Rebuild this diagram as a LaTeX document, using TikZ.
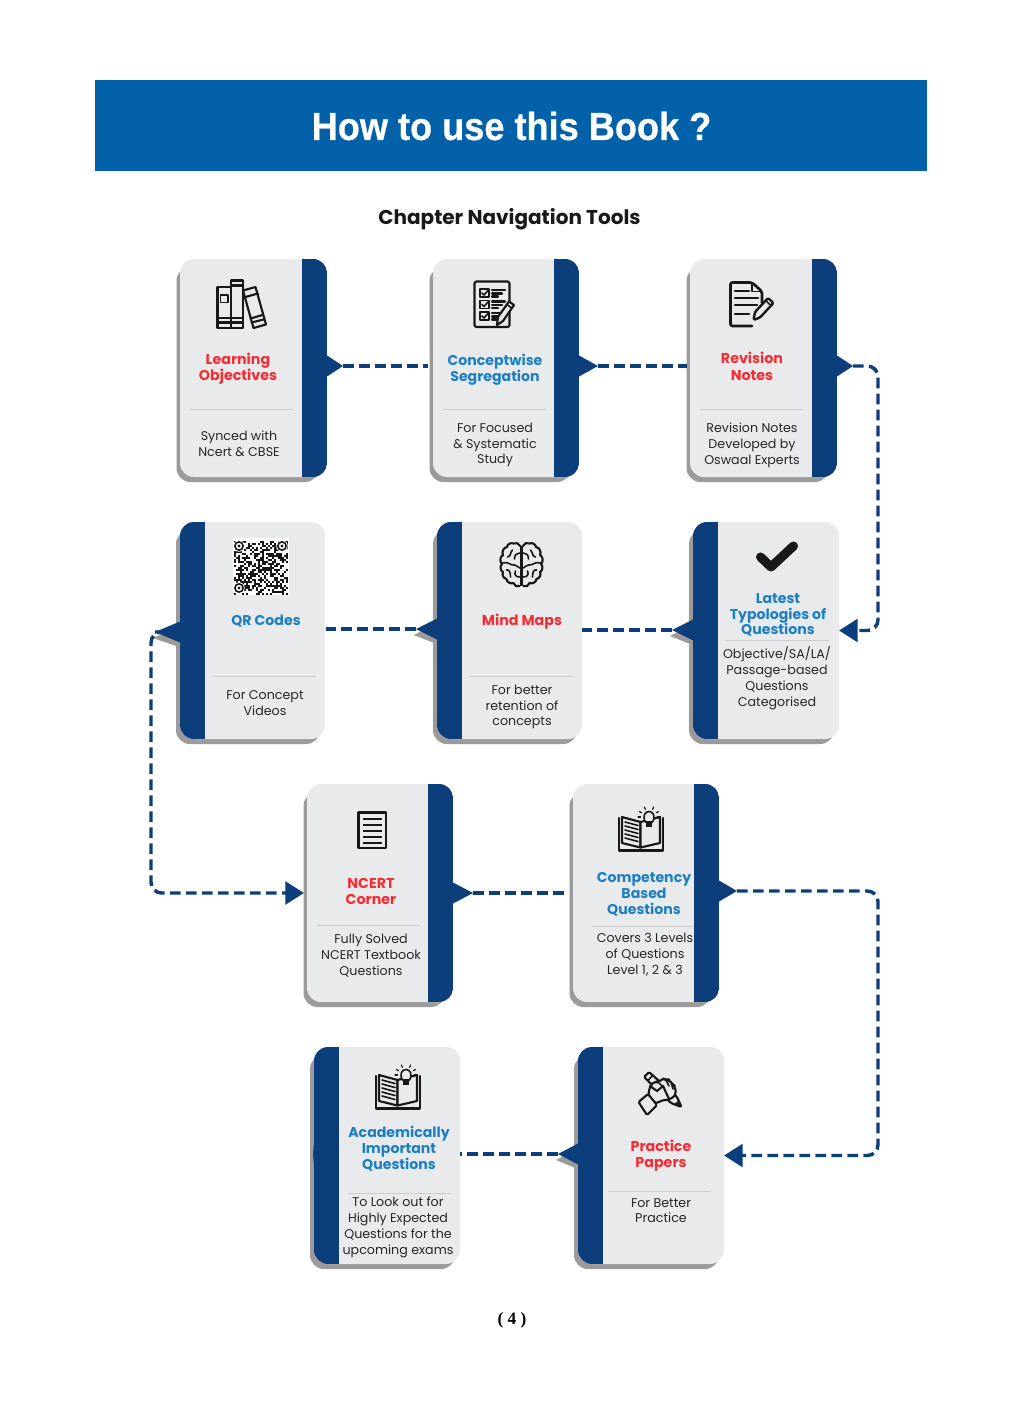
\documentclass[tikz,border=0pt]{standalone}
\usepackage{fontspec}
\setmainfont{Poppins}
\newfontfamily\titlefont[FakeStretch=0.925,BoldFeatures={FakeBold=0.6}]{Liberation Sans}
\newfontfamily\pagefont{Liberation Serif}
\usetikzlibrary{arrows.meta,calc}
\definecolor{navy}{HTML}{0B3E7A}
\definecolor{headbar}{HTML}{0261A9}
\definecolor{cardfill}{HTML}{E9EAEC}
\definecolor{shadowc}{HTML}{9C9A9B}
\definecolor{hblue}{HTML}{1B7FC4}
\definecolor{hred}{HTML}{F52C33}
\definecolor{inkc}{HTML}{1A1718}
\tikzset{
  cardbox/.style={fill=cardfill,rounded corners=10.5pt,inner sep=0pt,outer sep=0pt},
  ttlred/.style={font=\fontsize{10.7}{12.2}\selectfont\bfseries,text=hred,align=center,inner sep=0pt,yshift=-1.1pt},
  ttlblue/.style={font=\fontsize{10.6}{11.9}\selectfont\bfseries,text=hblue,align=center,inner sep=0pt,yshift=-1.1pt},
  bodytxt/.style={font=\fontsize{9.5}{11.9}\selectfont,text=black!85,align=center,inner sep=0pt,yshift=-0.8pt},
  divider/.style={draw=black!20,line width=0.6pt},
  conn/.style={draw=navy,line width=2.6pt,dash pattern=on 8pt off 4pt,rounded corners=8pt},
  connarrow/.style={conn,-{Triangle[length=14pt,width=17pt]}},
  icon/.style={draw=inkc,line width=1.6pt,line cap=round,line join=round},
  iconthin/.style={draw=inkc,line width=1.2pt,line cap=round,line join=round},
}
% id, x0, x1, y0, y1, tipx, tipy
\newcommand{\cardright}[7]{
  \fill[shadowc,rounded corners=10.5pt] ({#2-3.5},{#4+8}) rectangle ({#3-8},{#5+5});
  \node[cardbox,minimum width={(#3-#2)*0.75pt},minimum height={(#5-#4)*0.75pt}] (#1) at ({(#2+#3)/2},{(#4+#5)/2}) {};
  \begin{scope}
    \clip[rounded corners=10.5pt] (#2,#4) rectangle (#3,#5);
    \fill[navy] ({#3-25},#4) rectangle (#3,#5);
  \end{scope}
  \fill[navy] (#3,{#7-10.5}) -- (#6,#7) -- (#3,{#7+10.5}) -- ({#3-2},{#7+10.5}) -- ({#3-2},{#7-10.5}) -- cycle;
  \coordinate (#1tab) at (#6,#7);
}
\newcommand{\cardleft}[7]{
  \fill[shadowc] ({#2+2},{#7-7}) -- ({#6-2},{#7+6}) -- ({#2+2},{#7+16}) -- cycle;
  \fill[shadowc,rounded corners=10.5pt] ({#2-4},{#4+8}) rectangle ({#3-5},{#5+5});
  \node[cardbox,minimum width={(#3-#2)*0.75pt},minimum height={(#5-#4)*0.75pt}] (#1) at ({(#2+#3)/2},{(#4+#5)/2}) {};
  \begin{scope}
    \clip[rounded corners=10.5pt] (#2,#4) rectangle (#3,#5);
    \fill[navy] (#2,#4) rectangle ({#2+25},#5);
  \end{scope}
  \fill[navy] (#2,{#7-10.5}) -- (#6,#7) -- (#2,{#7+10.5}) -- ({#2+2},{#7+10.5}) -- ({#2+2},{#7-10.5}) -- cycle;
  \coordinate (#1tab) at (#6,#7);
}
% dx dy : open book with bulb
\newcommand{\openbook}[2]{
  \begin{scope}[shift={(#1,#2)}]
    \draw[icon] (619,818) -- (619,850.5) -- (663,850.5) -- (663,818);
    \draw[icon,fill=cardfill] (622,817) -- (640.5,822) -- (640.5,847.5) -- (622,843) -- cycle;
    \draw[icon,fill=cardfill] (640.5,822) -- (660,817) -- (660,843) -- (640.5,847.5) -- cycle;
    \foreach \k in {0,1,2,3,4}
      \draw[iconthin] (625,{822+\k*4}) -- (638,{825.5+\k*4});
    \draw[iconthin,fill=cardfill] (645.5,822) .. controls (642,816) and (645,811.5) .. (649,811.5) .. controls (653,811.5) and (656,816) .. (652.5,822) -- cycle;
    \fill[inkc] (646,822) rectangle (652,826.5);
    \foreach \a in {-150,-115,-65,-30,0,180}
      \draw[iconthin,line width=0.9pt] ($(649,817)+(\a:8.5)$) -- ($(649,817)+(\a:11)$);
  \end{scope}
}
\begin{document}
\begin{tikzpicture}[x=0.75pt,y=-0.75pt]
\useasboundingbox (0,0) rectangle (1024,1408);
\fill[white] (0,0) rectangle (1024,1408);

% header
\node[fill=headbar,minimum width={832*0.75pt},minimum height={91*0.75pt},inner sep=0pt,outer sep=0pt] (bar) at (511,125.5) {};
\node[text=white,inner sep=0pt,font=\titlefont\bfseries\fontsize{29.3}{32}\selectfont] (title) at (511.5,126) {How to use this Book ?};
\node[text=black!90,inner sep=0pt,font=\bfseries\fontsize{15}{17}\selectfont] (subtitle) at (509.5,219) {Chapter Navigation Tools};
\node[text=black,inner sep=0pt,font=\pagefont\bfseries\fontsize{13}{15}\selectfont] (pageno) at (512,1320) {( 4 )};

% cards
\cardright{c1}{180}{327}{259}{477}{343}{366}
\cardright{c2}{433}{579}{259}{477}{598}{366}
\cardright{c3}{690}{837}{259}{477}{853}{366}
\cardleft{c4}{180}{325}{522}{739}{155}{632}
\cardleft{c5}{437}{582}{522}{739}{416}{629}
\cardleft{c6}{693}{839}{522}{739}{672}{630}
\cardright{c7}{307}{453}{784}{1002}{473}{893}
\cardright{c8}{573}{719}{784}{1002}{737}{891}
\cardleft{c9}{314}{460}{1047}{1264}{313}{1154}
\cardleft{c10}{578}{724}{1047}{1264}{558}{1154}

% connectors
\coordinate (railA) at (878,500);
\coordinate (railB) at (878,1000);
\coordinate (railW) at (151,760);
\draw[conn,shorten >=3.75pt] (c1tab) -- (c1tab -| c2.west);
\draw[conn,shorten >=2pt] (c2tab) -- (c2tab -| c3.west);
\draw[connarrow] (c3tab) -| (railA) |- (c6.east);
\draw[conn] (c6tab) -- (c6tab -| c5.east);
\draw[conn,shorten >=1pt] (c5tab) -- (c5tab -| c4.east);
\draw[connarrow,shorten >=2.25pt] (c4tab) -| (railW) |- (c7.west);
\draw[conn,shorten >=6pt] (c7tab) -- (c7tab -| c8.west);
\draw[connarrow] (c8tab) -| (railB) |- (c10.east);
\draw[conn] (c10tab) -- (c10tab -| c9.east);

% dividers and texts
\draw[divider] (190,409) -- (293,409);
\draw[divider] (443,409) -- (546,409);
\draw[divider] (700,409) -- (803,409);
\draw[divider] (213,676) -- (316,676);
\draw[divider] (470,676) -- (573,676);
\draw[divider] (726,640) -- (829,640);
\draw[divider] (317,925) -- (420,925);
\draw[divider] (592,926) -- (694,926);
\draw[divider] (348,1193) -- (451,1193);
\draw[divider] (608,1191) -- (711,1191);

\node[ttlred] (t1) at (238,367) {Learning\\Objectives};
\node[bodytxt] (b1) at (239,443) {Synced with\\Ncert \& CBSE};
\node[ttlblue] (t2) at (495,368) {Conceptwise\\Segregation};
\node[bodytxt] (b2) at (495,444) {For Focused\\\& Systematic\\Study};
\node[ttlred] (t3) at (752,365) {Revision\\Notes};
\node[bodytxt] (b3) at (752,444) {Revision Notes\\Developed by\\Oswaal Experts};
\node[ttlblue] (t4) at (266,620) {QR Codes};
\node[bodytxt] (b4) at (265,702) {For Concept\\Videos};
\node[ttlred] (t5) at (522,620) {Mind Maps};
\node[bodytxt] (b5) at (522,706) {For better\\retention of\\concepts};
\node[ttlblue] (t6) at (778,613.5) {Latest\\Typologies of\\Questions};
\node[bodytxt] (b6) at (777,677) {Objective/SA/LA/\\Passage-based\\Questions\\Categorised};
\node[ttlred] (t7) at (371,890) {NCERT\\Corner};
\node[bodytxt] (b7) at (371,954.5) {Fully Solved\\NCERT Textbook\\Questions};
\node[ttlblue] (t8) at (644,893) {Competency\\Based\\Questions};
\node[bodytxt] (b8) at (645,954) {Covers 3 Levels\\of Questions\\Level 1, 2 \& 3};
\node[ttlblue] (t9) at (399,1147) {Academically\\Important\\Questions};
\node[bodytxt] (b9) at (398,1226) {To Look out for\\Highly Expected\\Questions for the\\upcoming exams};
\node[ttlred] (t10) at (661,1154.5) {Practice\\Papers};
\node[bodytxt] (b10) at (661,1209.5) {For Better\\Practice};

% icon: books
\draw[icon] (217.5,287) rectangle (231,328);
\draw[icon] (231,280.5) rectangle (243,328);
\draw[icon] (243,290.5) -- (255.5,287) -- (266,324.5) -- (253.5,328) -- cycle;
\draw[icon] (217.5,318) -- (231,318) (217.5,322.5) -- (231,322.5);
\draw[icon] (231,285.5) -- (243,285.5) (231,318) -- (243,318) (231,322.5) -- (243,322.5);
\draw[iconthin] (220.5,295) rectangle (228,302.5);
\draw[icon] (245.5,297) -- (258,293.5) (262.5,315) -- (250.5,318.5) (251.5,322.5) -- (263.5,319.5);

% icon: checklist
\draw[icon,rounded corners=1.5pt] (474.5,281.5) rectangle (509.5,327);
\foreach \yy in {289,300.5,312}{
  \draw[iconthin] (480,\yy) rectangle (489,{\yy+8});
  \draw[iconthin] (482,{\yy+4}) -- (484,{\yy+6}) -- (488,{\yy+1.5});
  \draw[icon] (492,{\yy+1}) -- (505,{\yy+1}) (492,{\yy+4.5}) -- (502,{\yy+4.5}) (492,{\yy+7.5}) -- (498,{\yy+7.5});
}
\draw[icon,fill=cardfill] (497,325) -- (498,317) -- (509,301.5) -- (514,305) -- (503,321) -- cycle;
\draw[iconthin] (507,304.5) -- (511.5,308);

% icon: notes
\draw[icon,line width=2pt,rounded corners=1.5pt] (752,326) -- (730.5,326) -- (730.5,282.5) -- (752,282.5) -- (762,291.5) -- (762,303);
\draw[icon,line width=1.4pt] (752,282.5) -- (752,291.5) -- (762,291.5);
\draw[icon,line width=2pt] (735,291) -- (749,291) (735,298) -- (758,298) (735,305) -- (757,305) (735,314) -- (749,314);
\draw[icon,line width=1.8pt,fill=cardfill,rounded corners=1pt] (753.5,320) -- (755,312) -- (768,298) -- (773.5,303) -- (760,317.5) -- cycle;
\draw[iconthin] (765.5,300.5) -- (771,305.5);

% icon: check
\draw[draw=inkc,line width=6.8pt,line cap=round,line join=round] (760.5,557) -- (771,567) -- (793.5,546);

% icon: QR code
\fill[white] (233,538) rectangle (289,595);
\pgfmathsetseed{4711}
\foreach \i in {0,...,26}{
  \foreach \j in {0,...,26}{
    \pgfmathrandominteger{\rr}{0}{9}
    \ifnum\rr<5
      \fill[inkc] ({234+2*\i},{541+2*\j}) rectangle ({236.1+2*\i},{543.1+2*\j});
    \fi
  }
}
\foreach \qx/\qy in {239/546,282/546,239/588}{
  \fill[white] (\qx,\qy) circle[radius=4.3pt];
  \draw[inkc,line width=1.2pt] (\qx,\qy) circle[radius=3.1pt];
  \fill[inkc] (\qx,\qy) circle[radius=1.2pt];
}

% icon: brain
\begin{scope}[shift={(521.5,565)}]
  \foreach \s/\bd in {-1/right,1/left}{
    \draw[icon] (\s*1.5,-19) to[bend \bd=55] (\s*8,-21.5) to[bend \bd=55] (\s*14.5,-18) to[bend \bd=55] (\s*18.5,-10) to[bend \bd=55] (\s*19.5,-1) to[bend \bd=55] (\s*18.5,7) to[bend \bd=55] (\s*15,14) to[bend \bd=55] (\s*8,18) to[bend \bd=55] (\s*2,21);
    \draw[iconthin] (\s*2,-12) .. controls (\s*5,-12) and (\s*7,-10) .. (\s*7,-6) (\s*9,-15) .. controls (\s*12,-12) and (\s*10,-9) .. (\s*14,-8) (\s*19,-2) .. controls (\s*13,-4) and (\s*11,1) .. (\s*7,0) .. controls (\s*4,0) and (\s*3,3) .. (\s*2,3) (\s*15,5) .. controls (\s*12,4) and (\s*11,8) .. (\s*11,12) (\s*6,6) .. controls (\s*8,10) and (\s*5,12) .. (\s*2,12);
  }
  \draw[icon,line width=2pt,line cap=butt] (0,-19) -- (0,21);
\end{scope}

% icon: document
\draw[icon,line width=2pt,line cap=butt] (358.5,812.5) rectangle (386,848);
\foreach \k in {0,1,2,3,4}
  \draw[icon,line width=1.5pt,line cap=butt] (363,{818.5+\k*6}) -- (381.5,{818.5+\k*6});

% icons: open books
\openbook{0}{0}
\openbook{-243}{258}

% icon: hand with pencil
\draw[icon,rounded corners=1pt] (644,1077) -- (649,1072) -- (677,1097) -- (681.5,1107) -- (671,1103) -- cycle;
\draw[iconthin] (648,1080.5) -- (652.5,1075.5);
\fill[inkc] (677.5,1101) -- (681.5,1107) -- (675,1104) -- cycle;
\draw[icon,fill=cardfill,rounded corners=2.5pt] (650,1086) -- (655,1081) -- (659,1083) -- (662,1078) -- (666,1080) -- (669,1079.5) -- (672,1084) -- (675,1086) -- (676,1095) -- (669,1100) -- (662,1100) -- (656,1104) -- (648,1096) -- cycle;
\draw[iconthin] (659,1083) -- (663,1087) (666,1080) -- (669,1086) (671.5,1084) -- (673,1089);
\draw[icon] (650,1086) -- (657,1091) -- (663,1086) -- (669,1099);
\draw[icon,fill=cardfill,rounded corners=1pt] (638.5,1102) -- (648,1094) -- (657,1105) -- (647,1115) -- cycle;
\end{tikzpicture}
\end{document}
